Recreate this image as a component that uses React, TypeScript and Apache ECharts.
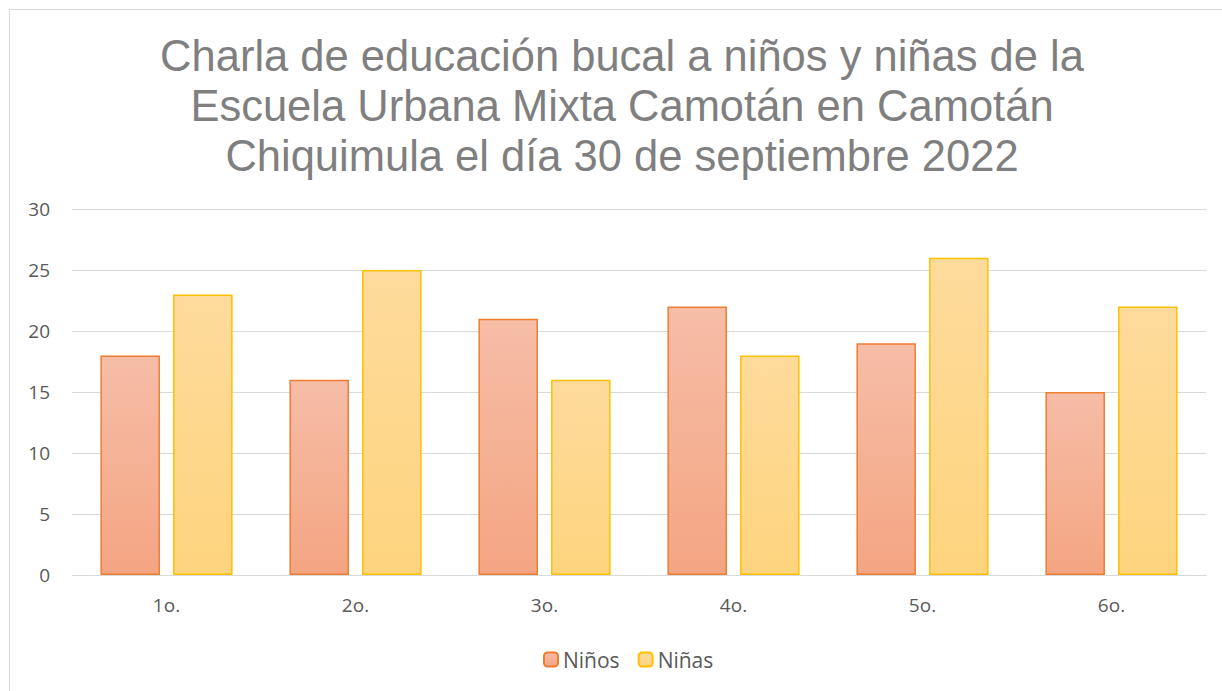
import React, { useEffect, useRef } from "react";
import * as echarts from "echarts";

const categories = ["1o.", "2o.", "3o.", "4o.", "5o.", "6o."];
const ninos = [18, 16, 21, 22, 19, 15];
const ninas = [23, 25, 16, 18, 26, 22];
const titleText =
  "Charla de educación bucal a niños y niñas de la\nEscuela Urbana Mixta Camotán en Camotán\nChiquimula el día 30 de septiembre 2022";

export default function App() {
  const ref = useRef<HTMLDivElement>(null);
  useEffect(() => {
    const chart = echarts.init(ref.current!, null, { renderer: "svg" });
    const grad = (top: string, bottom: string) =>
      new echarts.graphic.LinearGradient(0, 0, 0, 1, [
        { offset: 0, color: top },
        { offset: 1, color: bottom },
      ]);
    chart.setOption({
      animation: false,
      backgroundColor: "#ffffff",
      graphic: [
        {
          type: "rect",
          shape: { x: 9.5, y: 9.5, width: 1230, height: 700 },
          style: { fill: "none", stroke: "#d9d9d9", lineWidth: 1 },
          silent: true,
          z: -1,
        },
      ],
      title: {
        text: titleText,
        left: 617,
        textAlign: "center",
        top: 26,
        textStyle: {
          fontFamily: "Liberation Sans, Arial, sans-serif",
          fontSize: 43.5,
          fontWeight: "normal",
          color: "#7f7f7f",
          lineHeight: 50,
        },
      },
      legend: {
        bottom: 16,
        left: 538,
        itemWidth: 14,
        itemHeight: 14,
        itemGap: 18,
        textStyle: {
          fontFamily: "Open Sans, Noto Sans, sans-serif",
          fontSize: 21,
          color: "#595959",
        },
        data: ["Niños", "Niñas"],
      },
      grid: { left: 72, right: 16, top: 209, bottom: 116, containLabel: false },
      xAxis: {
        type: "category",
        data: categories,
        axisLine: { lineStyle: { color: "#d9d9d9", width: 1 } },
        axisTick: { show: false },
        axisLabel: {
          fontFamily: "Open Sans, Noto Sans, sans-serif",
          fontSize: 19,
          color: "#595959",
          margin: 20,
        },
      },
      yAxis: {
        type: "value",
        min: 0,
        max: 30,
        interval: 5,
        axisLine: { show: false },
        axisTick: { show: false },
        splitLine: { lineStyle: { color: "#d9d9d9", width: 1 } },
        axisLabel: {
          fontFamily: "Open Sans, Noto Sans, sans-serif",
          fontSize: 19,
          color: "#595959",
          margin: 22,
        },
      },
      series: [
        {
          name: "Niños",
          type: "bar",
          data: ninos,
          barWidth: "31.5%",
          barGap: "22%",
          itemStyle: {
            color: grad("#f6bda7", "#f4a582"),
            borderColor: "#ed7d31",
            borderWidth: 1.5,
          },
        },
        {
          name: "Niñas",
          type: "bar",
          data: ninas,
          barWidth: "31.5%",
          itemStyle: {
            color: grad("#fedb9c", "#fed47e"),
            borderColor: "#ffc000",
            borderWidth: 1.5,
          },
        },
      ],
    });
    return () => chart.dispose();
  }, []);
  return (
    <div
      ref={ref}
      style={{ position: "absolute", left: 0, top: 0, width: 1222, height: 691 }}
    />
  );
}
